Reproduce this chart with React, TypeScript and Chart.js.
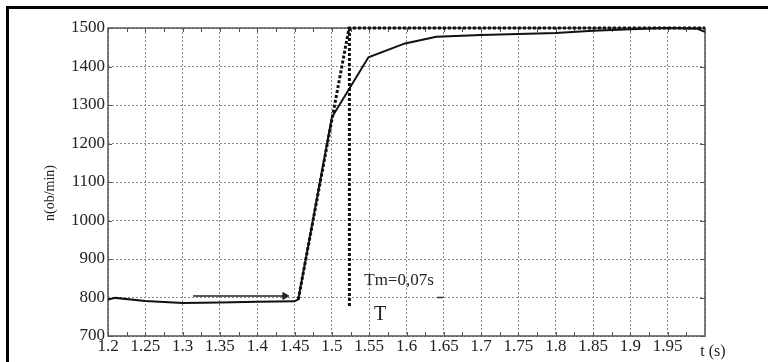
import React, { useEffect, useRef } from 'react';
import { Chart, registerables } from 'chart.js';

Chart.register(...registerables);

// ---- data ----
const xTickValues = [1.2, 1.25, 1.3, 1.35, 1.4, 1.45, 1.5, 1.55, 1.6, 1.65, 1.7, 1.75, 1.8, 1.85, 1.9, 1.95, 2.0];
const xTickLabels = ['1.2', '1.25', '1.3', '1.35', '1.4', '1.45', '1.5', '1.55', '1.6', '1.65', '1.7', '1.75', '1.8', '1.85', '1.9', '1.95', ''];
const yTickValues = [700, 800, 900, 1000, 1100, 1200, 1300, 1400, 1500];
const yTickLabels = ['700', '800', '900', '1000', '1100', '1200', '1300', '1400', '1500'];

// speed response n(t)
const respT = [1.2, 1.21, 1.25, 1.3, 1.35, 1.4, 1.45, 1.455, 1.5, 1.549, 1.598, 1.64, 1.7, 1.8, 1.85, 1.9, 1.95, 1.99, 2.0];
const respN = [795, 799, 791, 786, 787, 789, 790, 795, 1268, 1424, 1460, 1477, 1482, 1487, 1493, 1497, 1500, 1498, 1490];

// tangent (dotted) and reference level
const tanT = [1.455, 1.523, 2.0];
const tanN = [795, 1500, 1500];

// vertical dotted marker
const vertT = [1.5235, 1.5235];
const vertN = [1500, 774];

// arrow near steady level
const arrowT = [1.314, 1.437];
const arrowN = [804, 804];

// small dash mark
const dashT = [1.641, 1.649];
const dashN = [800, 800];

const toPts = (xs: number[], ys: number[]) => xs.map((x, i) => ({ x, y: ys[i] }));

const SERIF = "'Liberation Serif', 'Times New Roman', serif";

const labelFor = (values: number[], labels: string[], v: any) => {
  const i = values.findIndex((t) => Math.abs(t - Number(v)) < 1e-6);
  return i >= 0 ? labels[i] : '';
};

const decorPlugin = {
  id: 'decor',
  beforeDatasetsDraw(chart: any) {
    const { ctx, chartArea: a, scales } = chart;
    const x = scales.x;
    const y = scales.y;
    ctx.save();
    ctx.strokeStyle = '#555';
    ctx.lineWidth = 1.5;
    ctx.strokeRect(a.left, a.top, a.right - a.left, a.bottom - a.top);
    ctx.lineWidth = 1;
    ctx.strokeStyle = '#555';
    ctx.beginPath();
    const minor: number[] = [];
    for (let i = 0; i < xTickValues.length - 1; i++) {
      minor.push(xTickValues[i]);
      minor.push((xTickValues[i] + xTickValues[i + 1]) / 2);
    }
    minor.forEach((v) => {
      const px = Math.round(x.getPixelForValue(v)) + 0.5;
      ctx.moveTo(px, a.bottom);
      ctx.lineTo(px, a.bottom - 4);
      ctx.moveTo(px, a.top);
      ctx.lineTo(px, a.top + 4);
    });
    yTickValues.forEach((v) => {
      const py = Math.round(y.getPixelForValue(v)) + 0.5;
      ctx.moveTo(a.left, py);
      ctx.lineTo(a.left + 4, py);
      ctx.moveTo(a.right, py);
      ctx.lineTo(a.right - 5, py);
    });
    ctx.stroke();
    ctx.restore();
  },
  afterDraw(chart: any) {
    const { ctx, chartArea: a, scales } = chart;
    const x = scales.x;
    const y = scales.y;
    ctx.save();
    ctx.fillStyle = '#222';
    ctx.textAlign = 'center';
    ctx.textBaseline = 'middle';
    // annotations
    ctx.font = `17px ${SERIF}`;
    ctx.fillText('Tm=0,07s', x.getPixelForValue(1.59), y.getPixelForValue(845));
    ctx.font = `20px ${SERIF}`;
    ctx.fillText('T', x.getPixelForValue(1.5646), y.getPixelForValue(755));
    // x-axis title
    ctx.font = `16px ${SERIF}`;
    ctx.fillText('t (s)', x.getPixelForValue(2.0) + 8, a.bottom + 16);
    // y-axis title
    ctx.translate(50, 193);
    ctx.rotate(-Math.PI / 2);
    ctx.font = `14px ${SERIF}`;
    ctx.fillText('n(ob/min)', 0, 0);
    ctx.restore();
  },
};

export default function App() {
  const ref = useRef<HTMLCanvasElement | null>(null);

  useEffect(() => {
    if (!ref.current) return;
    const chart = new Chart(ref.current, {
      type: 'scatter',
      data: {
        datasets: [
          {
            data: toPts(respT, respN),
            showLine: true,
            borderColor: '#111',
            borderWidth: 2,
            pointRadius: 0,
            tension: 0,
            clip: false,
          } as any,
          {
            data: toPts(tanT, tanN),
            showLine: true,
            borderColor: '#111',
            borderWidth: 3,
            borderDash: [3, 2],
            borderCapStyle: 'butt',
            pointRadius: 0,
            clip: false,
          },
          {
            data: toPts(vertT, vertN),
            showLine: true,
            borderColor: '#111',
            borderWidth: 3,
            borderDash: [3, 2],
            borderCapStyle: 'butt',
            pointRadius: 0,
            clip: false,
          },
          {
            data: toPts(arrowT, arrowN),
            showLine: true,
            borderColor: '#222',
            borderWidth: 1.5,
            pointRadius: [0, 4],
            pointStyle: 'triangle',
            rotation: 90,
            pointBackgroundColor: '#222',
            pointBorderColor: '#222',
            pointBorderWidth: 1,
          },
          {
            data: toPts(dashT, dashN),
            showLine: true,
            borderColor: '#333',
            borderWidth: 1.5,
            pointRadius: 0,
          },
        ],
      },
      options: {
        animation: false,
        responsive: false,
        devicePixelRatio: 1,
        layout: { padding: { left: 0, top: 28, right: 63, bottom: 0 } },
        plugins: { legend: { display: false }, tooltip: { enabled: false } },
        scales: {
          x: {
            type: 'linear',
            min: 1.2,
            max: 2.0,
            afterBuildTicks: (scale: any) => {
              scale.ticks = xTickValues.map((v) => ({ value: v }));
            },
            afterFit: (scale: any) => {
              scale.height = 26;
            },
            ticks: {
              autoSkip: false,
              maxRotation: 0,
              padding: 0,
              color: '#222',
              font: { family: SERIF, size: 17 },
              callback: (v: any) => labelFor(xTickValues, xTickLabels, v),
            },
            grid: { color: '#8a8a8a', lineWidth: 1, drawTicks: false },
            border: { display: false, dash: [2, 2] },
          },
          y: {
            type: 'linear',
            min: 700,
            max: 1500,
            afterBuildTicks: (scale: any) => {
              scale.ticks = yTickValues.map((v) => ({ value: v }));
            },
            afterFit: (scale: any) => {
              scale.width = 108;
            },
            ticks: {
              padding: 3,
              color: '#222',
              font: { family: SERIF, size: 17 },
              callback: (v: any) => labelFor(yTickValues, yTickLabels, v),
            },
            grid: { color: '#8a8a8a', lineWidth: 1, drawTicks: false },
            border: { display: false, dash: [2, 2] },
          },
        },
      },
      plugins: [decorPlugin],
    } as any);
    return () => chart.destroy();
  }, []);

  return (
    <div style={{ position: 'fixed', left: 0, top: 0, width: 768, height: 362, background: '#fff', overflow: 'hidden' }}>
      <div
        style={{
          position: 'absolute',
          left: 6,
          top: 6,
          width: 900,
          height: 500,
          borderTop: '3px solid #000',
          borderLeft: '3px solid #000',
        }}
      />
      <canvas ref={ref} width={768} height={362} style={{ position: 'absolute', left: 0, top: 0, width: 768, height: 362 }} />
    </div>
  );
}
